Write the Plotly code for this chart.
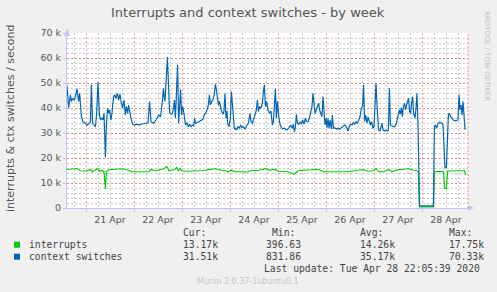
import plotly.graph_objects as go
from datetime import datetime, timedelta

title = "Interrupts and context switches - by week"
y_title = "interrupts & ctx switches / second"
base = datetime(2020, 4, 21)

# hours relative to 21 Apr 00:00, values in thousands per second
ctx_hours = [-9.5, -9.0, -8.7, -7.8, -7.3, -6.7, -6.0, -5.3, -4.5, -3.7, -3.2, -2.3, -1.5, -0.3, 0.5, 1.3, 2.2, 2.7,
             3.3, 4.0, 4.7, 5.3, 6.0, 6.7, 7.3, 8.0, 8.5, 9.0, 9.7, 10.2, 10.8, 11.3, 11.8, 12.5, 13.0, 13.8, 14.3,
             15.0, 15.7, 16.3, 17.0, 17.7, 18.3, 19.0, 19.7, 20.2, 20.8, 21.3, 22.0, 22.5, 23.3, 24.3, 25.5, 26.3,
             28.0, 29.7, 31.0, 31.8, 32.5, 33.8, 35.0, 36.3, 37.3, 38.0, 38.7, 39.2, 39.5, 40.7, 41.2, 41.8, 42.5,
             43.2, 43.8, 44.2, 44.7, 45.2, 45.8, 46.3, 46.8, 47.3, 47.8, 48.3, 48.8, 49.3, 49.8, 50.5, 51.2, 51.8,
             52.5, 53.2, 53.8, 54.3, 54.8, 55.5, 56.2, 57.0, 57.8, 58.5, 59.2, 59.8, 60.5, 61.2, 61.7, 62.2, 62.8,
             63.5, 64.2, 64.7, 65.2, 65.7, 66.2, 66.7, 67.2, 67.8, 68.5, 69.0, 69.5, 70.0, 70.5, 70.8, 71.5, 72.2,
             72.7, 73.2, 73.7, 74.2, 74.8, 75.3, 76.0, 76.7, 77.3, 78.0, 78.7, 79.5, 80.3, 81.2, 82.0, 82.5, 83.2,
             83.8, 84.5, 85.2, 85.7, 86.2, 86.8, 87.5, 88.2, 88.7, 89.2, 89.7, 90.3, 91.0, 91.8, 92.5, 93.2, 93.7,
             94.2, 94.7, 95.2, 95.7, 96.3, 97.0, 97.7, 98.5, 99.3, 100.2, 101.0, 101.7, 102.3, 103.0, 103.7, 104.2,
             104.7, 105.2, 105.7, 106.3, 107.0, 107.7, 108.3, 109.0, 109.7, 110.3, 111.0, 111.7, 112.3, 113.0, 113.5,
             114.0, 114.5, 115.0, 115.7, 116.3, 116.8, 117.3, 118.0, 118.5, 119.0, 119.5, 120.0, 120.5, 121.0, 121.5,
             122.0, 122.7, 123.2, 123.7, 124.3, 125.2, 126.0, 126.8, 127.7, 128.5, 129.3, 130.2, 131.0, 131.7, 132.3,
             133.0, 133.7, 134.3, 135.0, 135.7, 136.3, 137.0, 137.7, 138.3, 138.8, 139.3, 139.8, 140.5, 141.0, 141.5,
             142.2, 142.8, 143.5, 144.0, 144.5, 145.0, 145.7, 146.3, 147.0, 147.5, 148.0, 148.5, 149.2, 150.0, 150.7,
             151.2, 151.7, 152.2, 152.8, 153.7, 154.5, 155.2, 155.7, 156.2, 156.7, 157.2, 157.7, 158.2, 158.7, 159.3,
             159.8, 160.3, 160.8, 161.3, 161.8, 162.3, 162.8, 163.3, 163.8, 164.5, 165.0, 165.5, 166.0, 166.5, 166.8,
             170.0, 173.7, 174.2, 174.7, 175.3, 176.0, 176.7, 177.3, 178.0, 178.5, 179.0, 179.5, 180.2, 180.7, 181.2,
             181.7, 182.3, 183.0, 183.7, 184.5, 185.3, 186.0, 186.5, 187.0, 187.5, 188.0, 188.5, 189.0, 189.5, 190.0]
ctx_k = [49.0, 40.0, 40.0, 45.3, 42.6, 43.9, 43.2, 44.6, 47.7, 42.6, 45.9, 36.5, 34.5, 33.9, 33.2, 33.6, 34.5, 49.3,
         33.9, 33.2, 32.5, 37.2, 50.3, 37.2, 35.2, 36.1, 35.2, 37.9, 20.2, 33.2, 39.9, 37.9, 39.2, 35.2, 37.9, 44.6, 45.3,
         43.9, 45.9, 43.2, 45.5, 41.9, 39.9, 43.2, 37.2, 40.6, 37.9, 41.2, 37.9, 35.9, 33.6, 33.2, 33.5, 33.2,
         33.6, 33.9, 34.1, 42.6, 34.5, 33.9, 35.2, 37.2, 36.5, 41.2, 47.9, 43.9, 42.6, 60.4, 46.6, 38.3, 37.5,
         37.9, 39.9, 43.2, 35.9, 46.6, 57.3, 33.9, 40.6, 47.3, 37.2, 40.6, 38.6, 34.5, 33.2, 33.9, 32.5, 33.5,
         32.5, 33.2, 32.8, 35.9, 33.6, 34.3, 34.3, 34.8, 35.2, 35.5, 37.5, 37.9, 39.2, 41.2, 45.3, 41.2, 42.6,
         43.2, 45.9, 49.5, 47.3, 44.6, 41.2, 42.6, 39.9, 38.6, 37.5, 38.8, 45.9, 35.9, 38.8, 33.9, 32.5, 35.9,
         46.6, 41.2, 33.2, 31.5, 31.9, 31.2, 32.5, 31.9, 33.2, 32.1, 32.5, 31.6, 32.9, 33.9, 37.9, 34.5, 33.9,
         35.2, 37.2, 39.2, 43.2, 38.6, 40.6, 39.9, 41.9, 46.6, 49.3, 40.6, 42.6, 39.2, 37.9, 38.8, 33.2, 34.5,
         43.2, 47.7, 35.9, 42.6, 37.2, 33.5, 32.1, 31.6, 31.9, 31.2, 31.6, 32.5, 33.2, 31.9, 33.5, 30.3,
         32.5, 37.5, 33.9, 33.5, 34.3, 33.5, 35.2, 33.5, 35.9, 34.5, 34.5, 35.9, 38.6, 40.6, 45.9,
         41.2, 37.9, 38.8, 40.6, 41.9, 39.2, 37.9, 36.5, 44.6, 36.5, 33.2, 35.9, 32.1, 35.9, 31.9,
         35.2, 31.5, 37.2, 31.9, 32.1, 31.6, 31.9, 31.6, 32.1, 32.5, 33.2, 32.5, 30.8, 32.9, 33.5,
         33.2, 34.3, 33.5, 34.5, 33.9, 35.2, 36.5, 39.9, 40.6, 49.3, 34.5, 37.2, 33.9, 36.5, 34.5,
         33.2, 34.5, 31.9, 32.5, 41.2, 49.9, 38.6, 31.2, 30.8, 33.2, 33.9, 31.2, 30.8, 31.2, 30.8,
         31.2, 47.9, 33.2, 32.9, 32.5, 32.5, 33.9, 35.9, 37.9, 39.2, 37.5, 40.2, 36.5, 40.6, 41.9,
         39.2, 41.2, 43.2, 43.9, 38.6, 37.9, 41.9, 44.6, 37.9, 35.9, 39.9, 45.9, 33.2, 12.0, 0.85,
         0.83, 0.85, 32.5, 33.2, 31.9, 33.9, 34.3, 34.1, 33.9, 33.2, 25.2, 16.1, 16.1, 25.2, 37.2,
         37.9, 36.5, 35.9, 35.2, 34.9, 35.2, 35.2, 45.3, 39.2, 41.2, 37.2, 42.6, 35.2, 31.6, 31.5]

irq_hours = [-9.5, -7.8, -6.2, -4.5, -2.8, -1.2, 0.5, 2.2, 3.0, 4.7, 6.0, 6.7, 8.0, 9.0, 9.7, 10.2, 11.3, 13.0, 15.5,
             18.0, 21.3, 23.0, 26.3, 29.7, 31.7, 32.2, 34.7, 38.0, 39.7, 40.3, 41.5, 42.8, 44.5, 45.3, 46.2, 47.0,
             47.8, 49.5, 52.8, 56.2, 59.5, 61.2, 62.8, 64.5, 66.2, 68.7, 70.3, 71.2, 72.8, 74.5, 77.8, 80.3, 82.0,
             83.7, 86.2, 88.7, 89.5, 92.0, 94.3, 96.0, 101.0, 104.0, 106.0, 112.7, 114.3, 116.0, 117.7, 119.3,
             124.3, 131.0, 138.5, 141.0, 143.5, 145.0, 146.2, 148.7, 151.7, 152.8, 156.2, 158.7, 161.2, 163.7,
             165.3, 166.2, 166.7, 170.0, 173.7, 174.2, 177.0, 178.7, 179.3, 180.2, 180.8, 182.8, 185.3, 187.8,
             189.2, 190.0]
irq_k = [15.4, 15.5, 15.6, 15.8, 14.9, 14.9, 14.7, 15.5, 14.4, 15.2, 15.8, 14.7, 15.1, 14.5, 7.6, 14.5, 15.3, 15.4, 15.4,
         15.7, 15.1, 14.5, 14.5, 14.6, 14.6, 15.4, 14.9, 15.5, 16.1, 16.7, 14.9, 15.1, 15.5, 16.2, 14.9, 15.8,
         14.9, 14.7, 14.7, 14.9, 15.0, 15.5, 15.4, 15.8, 15.4, 14.9, 14.9, 14.5, 15.1, 14.5, 14.5, 14.3, 14.9,
         14.9, 15.1, 15.5, 15.8, 15.1, 15.5, 14.7, 14.5, 13.5, 14.9, 15.3, 15.5, 15.4, 14.9, 14.5,
         14.5, 14.5, 15.4, 14.7, 14.9, 15.8, 14.5, 14.5, 15.4, 14.5, 15.4, 15.4, 15.8, 15.1,
         15.0, 14.5, 0.42, 0.40, 0.42, 14.5, 14.7, 14.5, 7.8, 7.8, 14.7, 14.9, 14.9, 15.1,
         14.9, 13.2]

y_tick_vals = [0, 10000, 20000, 30000, 40000, 50000, 60000, 70000]
y_tick_text = ["0", "10 k", "20 k", "30 k", "40 k", "50 k", "60 k", "70 k"]

series_names = ["interrupts", "context switches"]
series_colors = ["#00CC00", "#0066B3"]
cur_vals = ["13.17k", "31.51k"]
min_vals = ["396.63", "831.86"]
avg_vals = ["14.26k", "35.17k"]
max_vals = ["17.75k", "70.33k"]
col_headers = ["Cur:", "Min:", "Avg:", "Max:"]
last_update = "Last update: Tue Apr 28 22:05:39 2020"
footer = "Munin 2.0.37-1ubuntu0.1"
watermark = "RRDTOOL / TOBI OETIKER"

W, H = 497, 292
L, R, T, B = 67, 468, 33, 208


def px(x):
    return (x - L) / (R - L)


def py(y):
    return (B - y) / (B - T)


def to_dt(hours):
    return [base + timedelta(hours=h) for h in hours]


fig = go.Figure()
fig.add_trace(go.Scatter(x=to_dt(irq_hours), y=[v * 1000 for v in irq_k], mode="lines",
                         line=dict(color=series_colors[0], width=1.2), name=series_names[0]))
fig.add_trace(go.Scatter(x=to_dt(ctx_hours), y=[v * 1000 for v in ctx_k], mode="lines",
                         line=dict(color=series_colors[1], width=1.2), name=series_names[1]))

axis_col = "#C4C4F2"
major_grid = "rgba(235,110,110,0.7)"
minor_grid = "#C8C8C8"
txt_col = "#555555"
tick_font = dict(family="DejaVu Sans", size=9.5, color=txt_col)
dotpat = "2px,2px"

fig.update_xaxes(
    type="date",
    range=[base + timedelta(hours=(L - 86) / 2), base + timedelta(hours=(R - 86) / 2)],
    tick0="2020-04-21", dtick=86400000, tickformat="%d %b", ticklabelmode="period",
    showgrid=True, gridcolor=major_grid, griddash=dotpat, gridwidth=1,
    ticks="outside", ticklen=3, tickcolor=axis_col,
    showline=True, linecolor=axis_col, linewidth=1, zeroline=False,
    tickfont=tick_font,
    minor=dict(tick0="2020-04-21", dtick=6 * 3600000, showgrid=True, gridcolor=minor_grid,
               griddash=dotpat, gridwidth=1, ticks=""),
)
fig.update_yaxes(
    range=[0, 70000], tickmode="array", tickvals=y_tick_vals, ticktext=y_tick_text,
    showgrid=True, gridcolor=major_grid, griddash=dotpat, gridwidth=1,
    ticks="outside", ticklen=3, tickcolor=axis_col,
    showline=True, linecolor=axis_col, linewidth=1, zeroline=False,
    tickfont=tick_font,
    minor=dict(dtick=2000, tick0=0, showgrid=True, gridcolor=minor_grid, griddash=dotpat,
               gridwidth=1, ticks=""),
)

ann = []
ann.append(dict(text=title, x=px(248), y=py(13), xref="paper", yref="paper", showarrow=False,
                xanchor="center", yanchor="middle",
                font=dict(family="DejaVu Sans", size=13, color=txt_col)))
ann.append(dict(text=y_title, x=px(10), y=py(119), xref="paper", yref="paper", showarrow=False,
                textangle=-90, xanchor="center", yanchor="middle",
                font=dict(family="DejaVu Sans", size=11, color=txt_col)))
ann.append(dict(text=watermark, x=px(487), y=py(56), xref="paper", yref="paper", showarrow=False,
                textangle=90, xanchor="center", yanchor="middle",
                font=dict(family="DejaVu Sans", size=7, color="#C2C2C2")))
ann.append(dict(text=footer, x=px(248), y=py(281), xref="paper", yref="paper", showarrow=False,
                xanchor="center", yanchor="middle",
                font=dict(family="DejaVu Sans", size=8, color="#C4C4C4")))

mono = dict(family="DejaVu Sans Mono", size=9.7, color="#444444")
header_x = [181, 270, 358, 447]
value_x = [181, 264, 358, 447]
row_y = [244.7, 256.7]
for hx, htxt in zip(header_x, col_headers):
    ann.append(dict(text=htxt, x=px(hx), y=py(232.3), xref="paper", yref="paper", showarrow=False,
                    xanchor="left", yanchor="middle", font=mono))
shapes = []
for i, name in enumerate(series_names):
    ann.append(dict(text=name, x=px(26.5), y=py(row_y[i]), xref="paper", yref="paper", showarrow=False,
                    xanchor="left", yanchor="middle", font=mono))
    for vx, vals in zip(value_x, [cur_vals, min_vals, avg_vals, max_vals]):
        ann.append(dict(text=vals[i], x=px(vx), y=py(row_y[i]), xref="paper", yref="paper",
                        showarrow=False, xanchor="left", yanchor="middle", font=mono))
    shapes.append(dict(type="rect", xref="paper", yref="paper", x0=px(14), x1=px(20),
                       y0=py(row_y[i] - 3), y1=py(row_y[i] + 3), fillcolor=series_colors[i],
                       line=dict(width=0)))
ann.append(dict(text=last_update, x=px(482.3), y=py(268.3), xref="paper", yref="paper", showarrow=False,
                xanchor="right", yanchor="middle", font=mono))

# axis arrows
shapes.append(dict(type="path", xref="paper", yref="paper",
                   path=f"M {px(L - 3)} {py(T + 3)} L {px(L)} {py(T - 5)} L {px(L + 3)} {py(T + 3)} Z",
                   fillcolor=axis_col, line=dict(width=0)))
shapes.append(dict(type="path", xref="paper", yref="paper",
                   path=f"M {px(R)} {py(B - 3)} L {px(R + 6)} {py(B)} L {px(R)} {py(B + 3)} Z",
                   fillcolor=axis_col, line=dict(width=0)))
shapes.append(dict(type="line", xref="paper", yref="paper", x0=1, x1=1, y0=0, y1=1,
                   line=dict(color=major_grid, width=1, dash=dotpat)))

fig.update_layout(
    width=W, height=H,
    margin=dict(l=L, r=W - R, t=T, b=H - B, pad=0),
    paper_bgcolor="#F0F0F0", plot_bgcolor="#FFFFFF",
    showlegend=False, annotations=ann, shapes=shapes,
)
fig.write_html("out.html")
